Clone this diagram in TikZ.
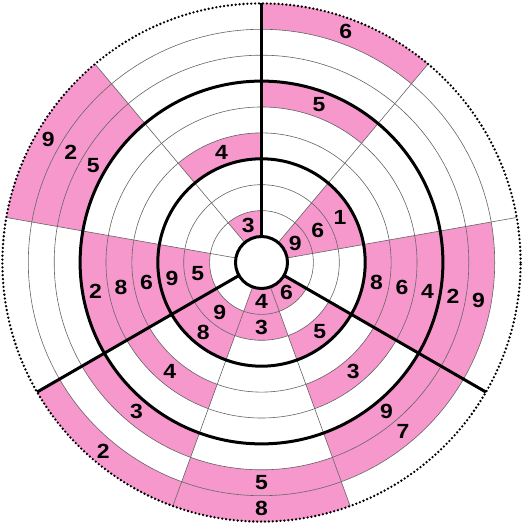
\documentclass[tikz,border=0pt]{standalone}
\usepackage{fontspec}
\setmainfont{Liberation Sans}
\definecolor{cellpink}{RGB}{246,152,204}
\definecolor{gridgray}{RGB}{100,100,100}
\begin{document}
\begin{tikzpicture}[x=1pt,y=1pt,
  thingrid/.style={draw=gridgray, line width=0.6pt},
  thickgrid/.style={draw=black, line width=3pt},
  dotring/.style={draw=black, line width=2.6pt, line cap=round, dash pattern=on 0pt off 3.9pt},
  num/.style={font=\bfseries\fontsize{20.5}{20.5}\selectfont, inner sep=0pt, anchor=center}]
\useasboundingbox (0,0) rectangle (524,529);
\begin{scope}[shift={(261.5,266.5)}]
\def\rw{25.9}
\def\cells{1/9/6, 1/6/5, 2/1/9, 2/2/6, 2/3/1, 3/4/8, 3/5/6, 3/6/4, 3/7/2, 3/8/9, 4/1/6, 4/3/5, 4/5/3, 4/7/9, 4/8/7, 5/1/4, 5/2/3, 5/8/5, 5/9/8, 6/2/9, 6/3/8, 6/5/4, 6/7/3, 6/9/2, 7/2/5, 7/3/9, 7/4/6, 7/5/8, 7/6/2, 8/7/5, 8/8/2, 8/9/9, 9/1/3, 9/4/4}
% pink cells
\foreach \s/\k/\n in \cells {
  \pgfmathsetmacro\aone{90-40*\s}
  \pgfmathsetmacro\atwo{\aone+40}
  \pgfmathsetmacro\rin{26+\rw*(\k-1)}
  \pgfmathsetmacro\rout{26+\rw*\k}
  \fill[cellpink] (\aone:\rin) arc[start angle=\aone, end angle=\atwo, radius=\rin]
    -- (\atwo:\rout) arc[start angle=\atwo, end angle=\aone, radius=\rout] -- cycle;
}
% thin rings
\foreach \k in {1,2,4,5,7,8} {
  \pgfmathsetmacro\r{26+\rw*\k}
  \draw[thingrid] (0,0) circle[radius=\r];
}
% thin radial lines
\foreach \a in {50,10,-70,-110,170,130} {
  \draw[thingrid] (\a:26) -- (\a:{26+9*\rw});
}
% thick rings
\foreach \k in {3,6} {
  \pgfmathsetmacro\r{26+\rw*\k}
  \draw[thickgrid] (0,0) circle[radius=\r];
}
% thick radial lines
\foreach \a in {90,-30,210} {
  \draw[thickgrid] (\a:26) -- (\a:{26+9*\rw});
}
% outer dotted ring
\draw[dotring] (0,0) circle[radius={26+9*\rw}];
% hole
\draw[thickgrid, fill=white] (0,0) circle[radius=26];
% numbers
\foreach \s/\k/\n [count=\i] in \cells {
  \pgfmathsetmacro\amid{70-40*(\s-1)}
  \pgfmathsetmacro\rmid{26+\rw*(\k-0.5)}
  \node[num] (n\i) at (\amid:\rmid) {\scalebox{1.12}[1]{\n}};
}
\end{scope}
\end{tikzpicture}
\end{document}
